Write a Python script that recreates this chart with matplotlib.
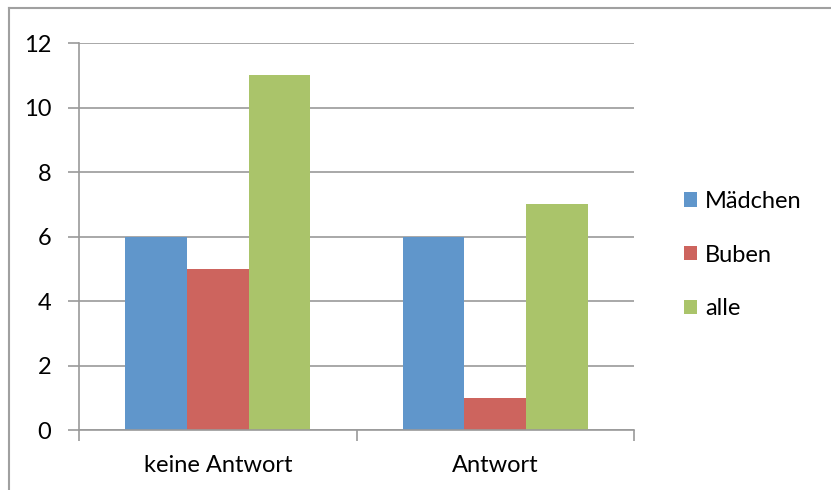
import matplotlib
matplotlib.use("Agg")
import matplotlib.pyplot as plt
from matplotlib.lines import Line2D
from matplotlib.patches import Patch
import numpy as np

categories = ["keine Antwort", "Antwort"]
series_names = ["Mädchen", "Buben", "alle"]
maedchen = [6, 6]
buben = [5, 1]
alle = [11, 7]
y_ticks = [0, 2, 4, 6, 8, 10, 12]

colors = ["#6096CB", "#CD645E", "#AAC46A"]
axis_gray = "#9A9A9A"

plt.rcParams["font.family"] = ["Lato", "DejaVu Sans"]
FS = 17

W, H = 831, 490
fig = plt.figure(figsize=(W / 100, H / 100), dpi=100)
ax = fig.add_axes([79 / W, 1 - 430 / H, (634 - 79) / W, (430 - 43) / H])

x = np.arange(len(categories))
bw = 1 / 4.5
for i, (vals, c) in enumerate(zip([maedchen, buben, alle], colors)):
    ax.bar(x + (i - 1) * bw, vals, width=bw, color=c, zorder=3, linewidth=0)

ax.set_xlim(-0.5, len(categories) - 0.5)
ax.set_ylim(0, 12)
ax.set_yticks(y_ticks)
ax.set_yticklabels([str(v) for v in y_ticks], fontsize=FS)
ax.yaxis.grid(True, color=axis_gray, linewidth=1.2, zorder=0)

# category boundary ticks on the x axis, labels at category centres
ax.set_xticks(np.arange(-0.5, len(categories)), minor=False)
ax.set_xticklabels([""] * (len(categories) + 1))
ax.set_xticks(x, minor=True)
ax.set_xticklabels(categories, minor=True, fontsize=FS)
ax.tick_params(axis="x", which="minor", length=0, pad=18)
ax.tick_params(axis="x", which="major", length=8, width=1.2, color=axis_gray, direction="out")
ax.tick_params(axis="y", length=8, width=1.2, color=axis_gray, direction="out", pad=12)

for s in ["top", "right"]:
    ax.spines[s].set_visible(False)
for s in ["left", "bottom"]:
    ax.spines[s].set_color(axis_gray)
    ax.spines[s].set_linewidth(1.2)
    ax.spines[s].set_zorder(4)

handles = [Patch(facecolor=c, edgecolor="none") for c in colors]
fig.legend(handles, series_names, loc="center left",
           bbox_to_anchor=(672 / W, 1 - 255 / H), frameon=False,
           fontsize=FS, handlelength=0.55, handleheight=0.55,
           handletextpad=0.35, labelspacing=1.38, borderpad=0)

# outer chart frame
fig.add_artist(Line2D([8.5 / W, 1], [1 - 8.5 / H, 1 - 8.5 / H], color="#A0A0A0", linewidth=1.5))
fig.add_artist(Line2D([8.5 / W, 8.5 / W], [0, 1 - 8.5 / H], color="#A0A0A0", linewidth=1.5))

fig.savefig("out.png", dpi=100)
